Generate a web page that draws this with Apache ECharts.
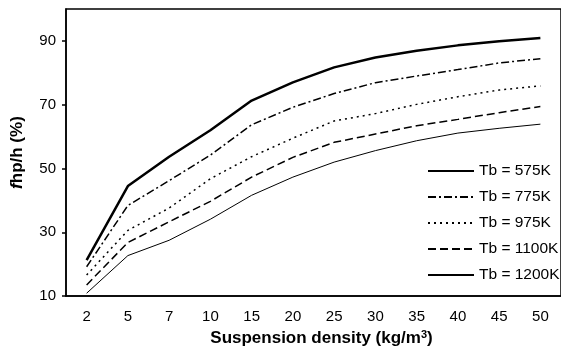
<!DOCTYPE html>
<html>
<head>
<meta charset="utf-8">
<script src="https://cdn.jsdelivr.net/npm/echarts@6/dist/echarts.min.js"></script>
<style>
  html, body { margin: 0; padding: 0; background: #fff; }
  #chart { width: 561px; height: 352px; }
</style>
</head>
<body>
<div id="chart"></div>
<script>
// suspension density categories (kg/m3)
var densities = ['2', '5', '7', '10', '15', '20', '25', '30', '35', '40', '45', '50'];
var yTicks = [10, 30, 50, 70, 90];

var tb575 = [21.3, 44.5, 53.7, 62.0, 71.3, 77.0, 81.7, 84.8, 86.9, 88.6, 89.9, 90.9];
var tb775 = [19.2, 38.4, 46.2, 54.2, 63.7, 69.2, 73.5, 76.9, 79.0, 81.0, 83.1, 84.4];
var tb975 = [16.6, 30.6, 37.6, 46.8, 53.7, 59.5, 64.9, 67.2, 70.1, 72.5, 74.6, 75.9];
var tb1100 = [13.5, 26.8, 33.3, 39.7, 47.3, 53.5, 58.2, 60.8, 63.4, 65.4, 67.5, 69.4];
var tb1200 = [10.9, 22.7, 27.5, 34.1, 41.6, 47.3, 52.0, 55.6, 58.7, 61.1, 62.6, 63.9];

var font = 'Arial, "Liberation Sans", sans-serif';

var chart = echarts.init(document.getElementById('chart'));

function mkLine(name, data, width, type) {
  return {
    name: name,
    type: 'line',
    data: data,
    symbol: 'none',
    showSymbol: false,
    itemStyle: { color: '#000' },
    lineStyle: { color: '#000', width: width, type: type }
  };
}

chart.setOption({
  animation: false,
  color: ['#000'],
  grid: {
    left: 66, top: 9, width: 499, bottom: 54,
    show: true, borderColor: '#000', borderWidth: 1.5
  },
  legend: {
    left: 427, top: 163, orient: 'vertical', padding: 0,
    itemWidth: 46, itemHeight: 14, itemGap: 10,
    itemStyle: { opacity: 0 },
    textStyle: { fontFamily: font, fontSize: 15.5, color: '#000', lineHeight: 16 },
    data: ['Tb = 575K', 'Tb = 775K', 'Tb = 975K', 'Tb = 1100K', 'Tb = 1200K']
  },
  xAxis: {
    type: 'category',
    data: densities,
    name: 'Suspension density (kg/m{sup|3})',
    nameLocation: 'middle',
    nameGap: 28,
    nameTextStyle: {
      fontFamily: font, fontSize: 17, fontWeight: 'bold', color: '#000',
      padding: [0, 0, 0, 16],
      rich: { sup: { fontFamily: font, fontSize: 11, fontWeight: 'bold', color: '#000', verticalAlign: 'top', padding: [0, 0, 8, 0] } }
    },
    axisLine: { lineStyle: { color: '#000', width: 1.5 } },
    axisTick: { length: 5, lineStyle: { color: '#000', width: 1.5 } },
    axisLabel: { fontFamily: font, fontSize: 15, color: '#000', margin: 13 },
    splitLine: { show: false }
  },
  yAxis: {
    type: 'value',
    min: 10, max: 100,
    name: '{it|f}hp/h (%)',
    nameLocation: 'middle',
    nameGap: 40,
    nameTextStyle: {
      fontFamily: font, fontSize: 17, fontWeight: 'bold', color: '#000',
      rich: { it: { fontFamily: font, fontSize: 17, fontWeight: 'bold', fontStyle: 'italic', color: '#000' } }
    },
    axisLine: { show: true, lineStyle: { color: '#000', width: 1.5 } },
    axisTick: { show: true, length: 4, customValues: yTicks, lineStyle: { color: '#000', width: 1.5 } },
    axisLabel: { fontFamily: font, fontSize: 15, color: '#000', margin: 10, customValues: yTicks },
    splitLine: { show: false }
  },
  series: [
    mkLine('Tb = 575K', tb575, 2.5, 'solid'),
    mkLine('Tb = 775K', tb775, 1.5, [8, 3, 2, 3]),
    mkLine('Tb = 975K', tb975, 1.5, [2, 4]),
    mkLine('Tb = 1100K', tb1100, 1.5, [8, 4]),
    mkLine('Tb = 1200K', tb1200, 1, 'solid')
  ]
});
</script>
</body>
</html>
